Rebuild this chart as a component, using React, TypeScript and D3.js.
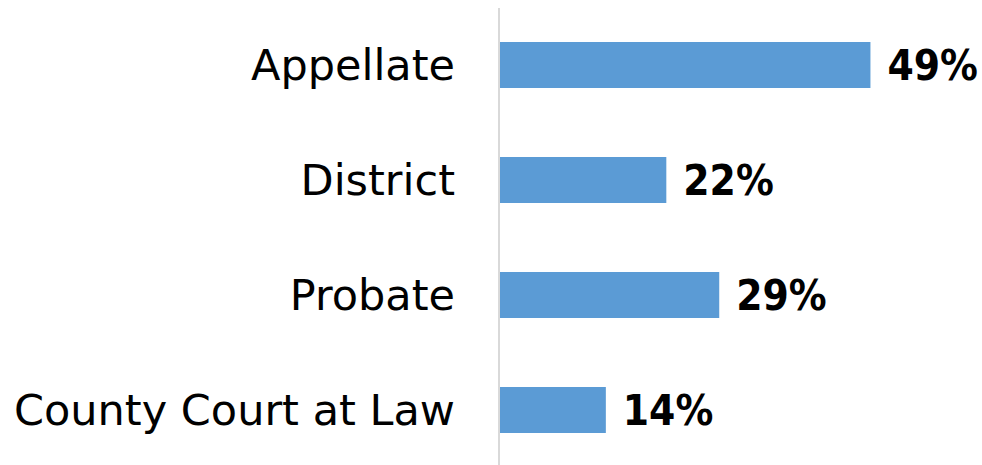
import React, { useEffect, useRef } from 'react';
import * as d3 from 'd3';

const categories = ['Appellate', 'District', 'Probate', 'County Court at Law'];
const shares = [0.49, 0.22, 0.29, 0.14];

const W = 982;
const H = 465;

const App = () => {
  const svgRef = useRef<SVGSVGElement>(null);

  useEffect(() => {
    document.body.style.margin = '0';
    const svg = d3.select(svgRef.current);
    svg.selectAll('*').remove();

    const x = d3.scaleLinear().domain([0, 0.5]).range([500, 878]);
    const y = d3.scaleBand<string>()
      .domain(categories)
      .range([7.5, 467.5])
      .paddingInner(0.6)
      .paddingOuter(0.3);

    // bars
    svg.selectAll('.bar')
      .data(categories)
      .enter()
      .append('rect')
      .attr('class', 'bar')
      .attr('x', x(0))
      .attr('y', d => y(d)!)
      .attr('width', (d, i) => x(shares[i]) - x(0))
      .attr('height', y.bandwidth())
      .attr('fill', '#5b9bd5');

    // axis line
    svg.append('line')
      .attr('x1', 499).attr('x2', 499)
      .attr('y1', 8).attr('y2', H)
      .attr('stroke', '#d9d9d9')
      .attr('stroke-width', 2);

    // category labels
    svg.selectAll('.cat')
      .data(categories)
      .enter()
      .append('text')
      .attr('class', 'cat')
      .attr('x', 455)
      .attr('y', d => y(d)! + y.bandwidth() / 2)
      .attr('dy', '0.35em')
      .attr('text-anchor', 'end')
      .style('font-family', '"DejaVu Sans", sans-serif')
      .style('font-size', '43px')
      .style('fill', '#000')
      .text(d => d);

    // value labels
    svg.selectAll('.val')
      .data(categories)
      .enter()
      .append('text')
      .attr('class', 'val')
      .attr('x', (d, i) => x(shares[i]) + 17)
      .attr('y', d => y(d)! + y.bandwidth() / 2)
      .attr('dy', '0.36em')
      .style('font-family', '"DejaVu Sans Condensed", "DejaVu Sans", sans-serif')
      .style('font-size', '42px')
      .style('font-weight', 'bold')
      .style('fill', '#000')
      .text((d, i) => d3.format('.0%')(shares[i]));
  }, []);

  return <svg ref={svgRef} width={W} height={H} style={{ display: 'block' }}></svg>;
};

export default App;
